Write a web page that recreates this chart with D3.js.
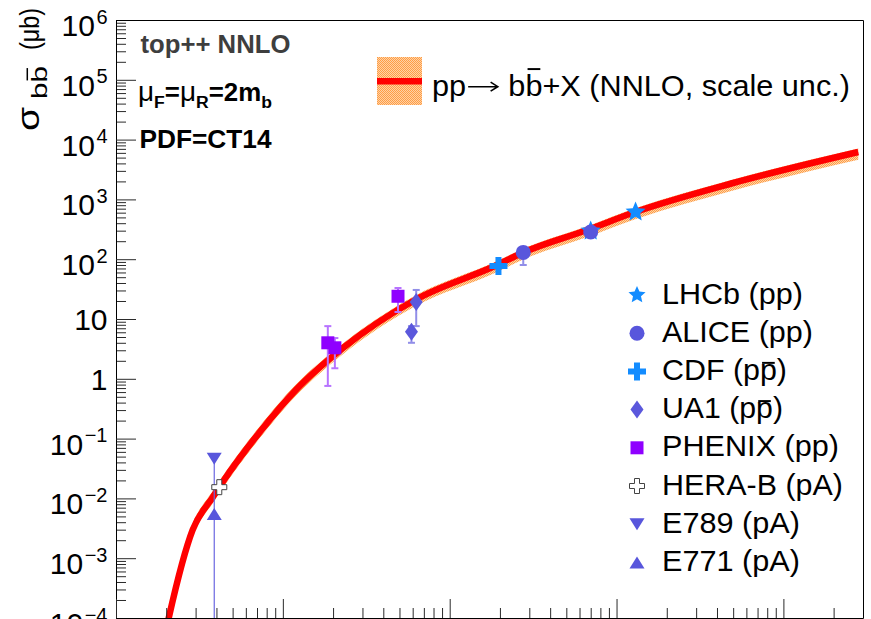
<!DOCTYPE html>
<html>
<head>
<meta charset="utf-8">
<script src="https://cdn.jsdelivr.net/npm/d3@7"></script>
<style>
  body { margin: 0; background: #fff; }
  svg { display: block; font-family: "Liberation Sans", Arial, Helvetica, sans-serif; }
  svg text { white-space: pre; }
</style>
</head>
<body>
<svg id="chart" width="871" height="619"></svg>
<script>
// NNLO b-bbar cross section (μb) versus centre-of-mass energy (GeV)
const curveEnergy = [18.8, 20.7, 28.8, 38.0, 43.6, 72.8, 119.6, 229, 619, 1923, 2716, 6670, 12940, 50000, 281000];
const curveSigma  = [2.9e-5, 1.0e-4, 2.97e-3, 1.05e-2, 1.88e-2, 0.129, 0.65, 3.27, 20.8, 80, 127, 308, 615, 1880, 6210];
const bandLow     = [2.3e-5, 0.78e-4, 2.35e-3, 0.83e-2, 1.48e-2, 0.102, 0.515, 2.58, 16.2, 61, 97, 234, 465, 1410, 4620];
const bandHigh    = [3.8e-5, 1.32e-4, 3.8e-3, 1.33e-2, 2.38e-2, 0.162, 0.8, 3.9, 24.5, 93, 147, 356, 710, 2160, 7100];

// Measurements: energy (GeV), cross section (μb), lower and upper errors (μb)
const lhcbEnergy   = [7000, 13000],   lhcbSigma   = [295, 615],      lhcbErrLow   = [0, 0],             lhcbErrHigh   = [0, 0];
const aliceEnergy  = [2760, 7000],    aliceSigma  = [130, 285],      aliceErrLow  = [50, 0],            aliceErrHigh  = [30, 0];
const cdfEnergy    = [1960],          cdfSigma    = [77],            cdfErrLow    = [0],                cdfErrHigh    = [0];
const ua1Energy    = [630, 590],      ua1Sigma    = [19.2, 6.1],     ua1ErrLow    = [11.6, 2.1],        ua1ErrHigh    = [11.4, 1.5];
const phenixEnergy = [186, 205, 490], phenixSigma = [4.0, 3.3, 24],  phenixErrLow = [3.24, 1.8, 10.9],  phenixErrHigh = [3.6, 1.5, 9];
const herabEnergy  = [41.6],          herabSigma  = [0.0154],        herabErrLow  = [0],                herabErrHigh  = [0];
const e789Energy   = [38.8],          e789Sigma   = [0.046],         e789ErrLow   = [0],                e789ErrHigh   = [0];
const e771Energy   = [38.8],          e771Sigma   = [0.0055],        e771ErrLow   = [0.0055],           e771ErrHigh   = [0.04];

const legendLabels = ["LHCb (pp)", "ALICE (pp)", "CDF (p#bar{p})", "UA1 (p#bar{p})",
                      "PHENIX (pp)", "HERA-B (pA)", "E789 (pA)", "E771 (pA)"];
const yTickLabels = ["10^−4", "10^−3", "10^−2", "10^−1", "1", "10", "10^2", "10^3", "10^4", "10^5", "10^6"];
const curveLabel = "pp#arrow b#bar{b}+X (NNLO, scale unc.)";
const infoLines = ["top++ NNLO", "PDF=CT14"];

const svg = d3.select("#chart");
const frame = { left: 116, right: 863, top: 20, bottom: 618 };
const x = d3.scaleLog().domain([10, 3e5]).range([frame.left, frame.right]);
const y = d3.scaleLog().domain([1e-4, 1e6]).range([frame.bottom, frame.top]);

const defs = svg.append("defs");
const pat = defs.append("pattern").attr("id", "bandFill").attr("patternUnits", "userSpaceOnUse")
  .attr("width", 2).attr("height", 2);
pat.append("rect").attr("width", 2).attr("height", 2).attr("fill", "#ffd2a6");
pat.append("rect").attr("width", 1).attr("height", 1).attr("fill", "#ff9d45");
pat.append("rect").attr("x", 1).attr("y", 1).attr("width", 1).attr("height", 1).attr("fill", "#ff9d45");
defs.append("clipPath").attr("id", "plotClip").append("rect")
  .attr("x", frame.left).attr("y", frame.top)
  .attr("width", frame.right - frame.left).attr("height", frame.bottom - frame.top);

// ---- rich text: pieces laid out left to right; #bar{} adds an overline, #arrow a drawn arrow ----
function parseLabel(str, size, dy) {
  const out = [];
  str.split(/(#bar\{.\}|#arrow)/).forEach(s => {
    if (!s) return;
    const m = s.match(/^#bar\{(.)\}$/);
    if (m) out.push({ t: m[1], size, over: true, dy: dy || 0 });
    else if (s === "#arrow") out.push({ arrow: 33, size, dy: dy || 0 });
    else out.push({ t: s, size, dy: dy || 0 });
  });
  return out;
}
function richText(parent, x0, y0, pieces, o = {}) {
  const g = parent.append("g");
  const fill = o.fill || "#000";
  let cx = 0;
  pieces.forEach(p => {
    const base = p.dy || 0;
    if (p.arrow) {
      const ay = base - p.size * 0.31, w = p.arrow;
      g.append("path")
        .attr("d", `M${cx + 2},${ay}H${cx + w - 2}M${cx + w - 9},${ay - 4.5}L${cx + w - 2},${ay}L${cx + w - 9},${ay + 4.5}`)
        .attr("fill", "none").attr("stroke", fill).attr("stroke-width", 1.6);
      cx += w;
      return;
    }
    const t = g.append("text").attr("x", cx).attr("y", base)
      .attr("font-size", p.size).attr("font-weight", p.bold ? 700 : 400)
      .attr("fill", fill).text(p.t);
    const w = t.node().getComputedTextLength();
    if (p.over) {
      const lift = /[a-z]/.test(p.t) && !/[bdfhklt]/.test(p.t) ? 0.6 : 0.93;
      g.append("rect").attr("x", cx + p.size * 0.07).attr("y", base - p.size * lift)
        .attr("width", w - p.size * 0.14).attr("height", Math.max(1.5, p.size * 0.065)).attr("fill", fill);
    }
    cx += w + (p.gap || 0);
  });
  const k = o.width ? o.width / cx : 1;
  g.attr("transform", `translate(${x0},${y0})` + (o.rotate ? ` rotate(${o.rotate})` : "") + ` scale(${k},1)`);
  return g;
}

// ---- theory band and central line ----
const curveData = curveEnergy.map((e, i) => ({ e, s: curveSigma[i], lo: bandLow[i], hi: bandHigh[i] }));
const plot = svg.append("g").attr("clip-path", "url(#plotClip)");
plot.append("path").datum(curveData)
  .attr("d", d3.area().x(d => x(d.e)).y0(d => y(d.lo)).y1(d => y(d.hi)).curve(d3.curveMonotoneX))
  .attr("fill", "url(#bandFill)");
plot.append("path").datum(curveData)
  .attr("d", d3.line().x(d => x(d.e)).y(d => y(d.s)).curve(d3.curveMonotoneX))
  .attr("fill", "none").attr("stroke", "#ff0000").attr("stroke-width", 6.5).attr("stroke-linejoin", "round");

// ---- marker shapes ----
const shapes = {
  star: (ro = 10.5, ri = 4.8) => {
    const pts = [];
    for (let i = 0; i < 10; i++) {
      const r = i % 2 ? ri : ro, a = -Math.PI / 2 + i * Math.PI / 5;
      pts.push([r * Math.cos(a), r * Math.sin(a)]);
    }
    return "M" + pts.map(p => p.join(",")).join("L") + "Z";
  },
  circle: (r = 7.5) => `M${-r},0A${r},${r} 0 1,0 ${r},0A${r},${r} 0 1,0 ${-r},0Z`,
  cross: (s = 9, w = 3) => `M${-w},${-s}H${w}V${-w}H${s}V${w}H${w}V${s}H${-w}V${w}H${-s}V${-w}H${-w}Z`,
  diamond: (hw = 6.5, hh = 9) => `M0,${-hh}L${hw},0L0,${hh}L${-hw},0Z`,
  square: (h = 6.5) => `M${-h},${-h}H${h}V${h}H${-h}Z`,
  openCross: (s = 7.5, w = 2.5) => `M${-w},${-s}H${w}V${-w}H${s}V${w}H${w}V${s}H${-w}V${w}H${-s}V${-w}H${-w}Z`,
  triDown: (hw = 7.5, h = 12) => `M${-hw},${-h / 2}H${hw}L0,${h / 2}Z`,
  triUp: (hw = 7.5, h = 12) => `M${-hw},${h / 2}H${hw}L0,${-h / 2}Z`
};

const series = [
  { E: e771Energy, S: e771Sigma, lo: e771ErrLow, hi: e771ErrHigh, shape: "triUp", fill: "#5856dc", errColor: "#6a67e0", errW: 1.2, cap: false },
  { E: e789Energy, S: e789Sigma, lo: e789ErrLow, hi: e789ErrHigh, shape: "triDown", fill: "#5856dc", errColor: "#6a67e0", errW: 1.2, cap: false },
  { E: herabEnergy, S: herabSigma, lo: herabErrLow, hi: herabErrHigh, shape: "openCross", fill: "#fff", stroke: "#444", errColor: "#444", errW: 1 },
  { E: phenixEnergy, S: phenixSigma, lo: phenixErrLow, hi: phenixErrHigh, shape: "square", fill: "#8f00ff", errColor: "#b773ff", errW: 2 },
  { E: ua1Energy, S: ua1Sigma, lo: ua1ErrLow, hi: ua1ErrHigh, shape: "diamond", fill: "#5b58dc", errColor: "#918ee8", errW: 2 },
  { E: cdfEnergy, S: cdfSigma, lo: cdfErrLow, hi: cdfErrHigh, shape: "cross", fill: "#138cff", errColor: "#6fb6ff", errW: 2 },
  { E: lhcbEnergy, S: lhcbSigma, lo: lhcbErrLow, hi: lhcbErrHigh, shape: "star", fill: "#138cff", errColor: "#6fb6ff", errW: 2 },
  { E: aliceEnergy, S: aliceSigma, lo: aliceErrLow, hi: aliceErrHigh, shape: "circle", fill: "#5856dc", errColor: "#918ee8", errW: 2 }
];

// error bars
const errG = plot.append("g");
series.forEach(sr => sr.E.forEach((e, i) => {
  const eLo = sr.lo[i], eHi = sr.hi[i];
  if (!eLo && !eHi) return;
  const px = x(e);
  const top = y(sr.S[i] + eHi);
  const low = sr.S[i] - eLo;
  const bot = low > 0 ? y(low) : frame.bottom + 10;
  errG.append("line").attr("x1", px).attr("x2", px).attr("y1", top).attr("y2", bot)
    .attr("stroke", sr.errColor).attr("stroke-width", sr.errW);
  if (sr.cap === false) return;
  [eHi ? top : null, low > 0 && eLo ? bot : null].forEach(c => {
    if (c === null) return;
    errG.append("line").attr("x1", px - 3.5).attr("x2", px + 3.5).attr("y1", c).attr("y2", c)
      .attr("stroke", sr.errColor).attr("stroke-width", sr.errW);
  });
}));

// markers
series.forEach(sr => sr.E.forEach((e, i) => {
  plot.append("path").attr("d", shapes[sr.shape]())
    .attr("transform", `translate(${x(e)},${y(sr.S[i])})`)
    .attr("fill", sr.fill).attr("stroke", sr.stroke || "none").attr("stroke-width", 1);
}));

// ---- axes ----
const decades = d3.range(-4, 7).map(p => Math.pow(10, p));
const yMinor = [];
decades.slice(0, -1).forEach(d => { for (let m = 2; m <= 9; m++) yMinor.push(d * m); });
const xMajor = [10, 100, 1000, 10000, 100000];
const xMinor = [];
xMajor.forEach(d => { for (let m = 2; m <= 9; m++) if (d * m <= 3e5) xMinor.push(d * m); });

function styleAxis(g) {
  g.selectAll("path.domain").attr("stroke", "#000");
  g.selectAll(".tick line").attr("stroke", "#2a2a2a");
}
svg.append("g").attr("transform", `translate(${frame.left},0)`)
  .call(d3.axisLeft(y).tickValues(yMinor).tickSize(-10).tickSizeOuter(0).tickFormat(""))
  .call(styleAxis);
svg.append("g").attr("transform", `translate(${frame.left},0)`)
  .call(d3.axisLeft(y).tickValues(decades).tickSize(-20).tickSizeOuter(0).tickFormat(""))
  .call(styleAxis);
svg.append("g").attr("transform", `translate(0,${frame.bottom})`)
  .call(d3.axisBottom(x).tickValues(xMinor).tickSize(-10).tickSizeOuter(0).tickFormat(""))
  .call(styleAxis);
svg.append("g").attr("transform", `translate(0,${frame.bottom})`)
  .call(d3.axisBottom(x).tickValues(xMajor).tickSize(-19).tickSizeOuter(0).tickFormat(""))
  .call(styleAxis);

// frame top and right edges
svg.append("path")
  .attr("d", `M${frame.left},${frame.top + 0.5}H${frame.right + 0.5}V${frame.bottom}`)
  .attr("fill", "none").attr("stroke", "#000").attr("stroke-width", 1);

// y tick labels with superscripts
const labelG = svg.append("g");
decades.forEach((v, i) => {
  const [base, sup] = yTickLabels[i].split("^");
  const ty = y(v);
  const right = 107.5;
  if (sup) {
    const s = labelG.append("text").attr("x", right).attr("y", ty + 3.5).attr("text-anchor", "end")
      .attr("font-size", 20).text(sup);
    const sw = s.node().getComputedTextLength();
    labelG.append("text").attr("x", right - sw - 1.5).attr("y", ty + 16).attr("text-anchor", "end")
      .attr("font-size", 30).text(base);
  } else {
    labelG.append("text").attr("x", right).attr("y", ty + 10.8).attr("text-anchor", "end")
      .attr("font-size", 30).text(base);
  }
});

// y axis title: σ_{bb̄} (μb), drawn bottom to top
richText(svg, 39, 131, [{ t: "σ", size: 31 }], { rotate: -90, width: 24 });
richText(svg, 39, 99, [{ t: "b", size: 22, dy: 8 }, { t: "b", size: 22, dy: 8, over: true }], { rotate: -90, width: 33 });
richText(svg, 39, 50, [{ t: "(μb)", size: 28 }], { rotate: -90, width: 42 });

// ---- info text ----
richText(svg, 140.5, 53, [{ t: infoLines[0], size: 25, bold: true }], { width: 150, fill: "#3e3e3e" });
richText(svg, 138, 101, [
  { t: "μ", size: 27 },
  { t: "F", size: 17, bold: true, dy: 7 },
  { t: "=", size: 25, bold: true },
  { t: "μ", size: 27 },
  { t: "R", size: 17, bold: true, dy: 7 },
  { t: "=2m", size: 25, bold: true },
  { t: "b", size: 17, bold: true, dy: 7 }
], { width: 134 });
richText(svg, 139.5, 148, [{ t: infoLines[1], size: 25, bold: true }], { width: 132 });

// ---- theory legend ----
svg.append("rect").attr("x", 377).attr("y", 57).attr("width", 45).attr("height", 48).attr("fill", "url(#bandFill)");
svg.append("rect").attr("x", 377).attr("y", 78).attr("width", 45).attr("height", 6.5).attr("fill", "#ff0000");
richText(svg, 432, 96, parseLabel(curveLabel, 30), { width: 418 });

// ---- data legend ----
const legendOrder = [6, 7, 5, 4, 3, 2, 1, 0]; // series index for each legend row
const legendWidths = [141, 151, 125, 121, 177, 181, 138, 138];
legendOrder.forEach((si, row) => {
  const sr = series[si];
  const cy = 295 + row * 38.2;
  const mk = si === 6 ? shapes.star(9, 4.2) : shapes[sr.shape]();
  svg.append("path").attr("d", mk)
    .attr("transform", `translate(637,${cy})`)
    .attr("fill", sr.fill).attr("stroke", sr.stroke || "none").attr("stroke-width", 1);
  richText(svg, 662, cy + 8.5, parseLabel(legendLabels[row], 30), { width: legendWidths[row] });
});
</script>
</body>
</html>
